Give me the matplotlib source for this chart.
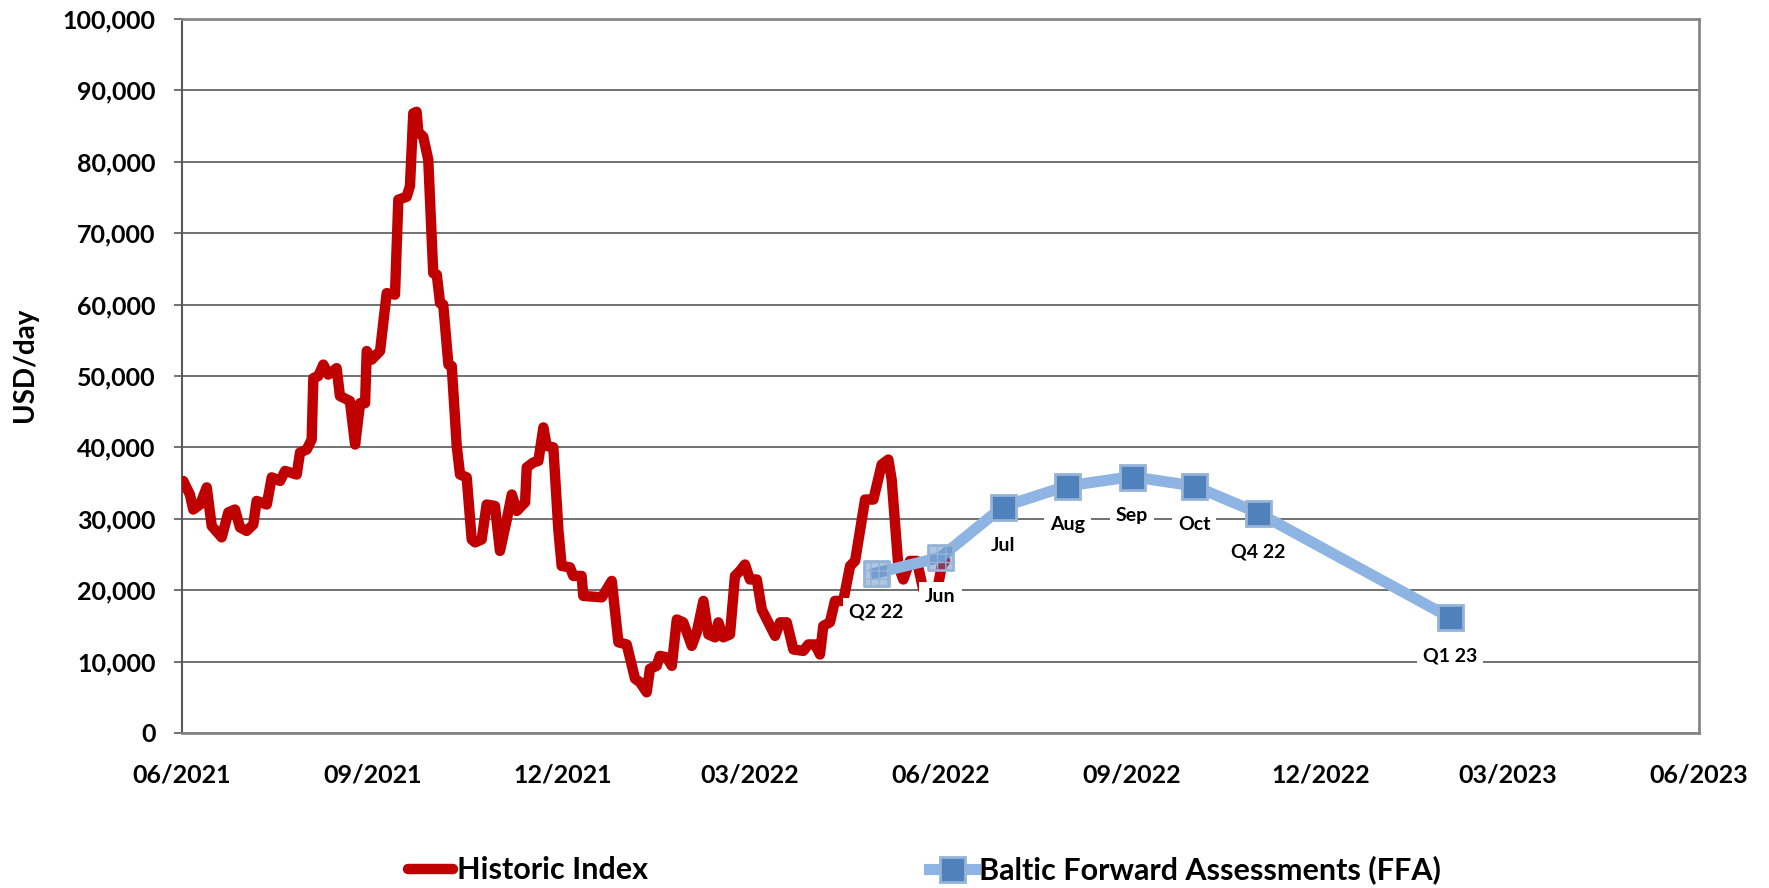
import matplotlib
matplotlib.use("Agg")
import matplotlib.pyplot as plt
import matplotlib.dates as mdates
import matplotlib.ticker as mticker
import numpy as np
import pandas as pd

plt.rcParams['font.family'] = ['Lato', 'DejaVu Sans']
plt.rcParams['font.weight'] = 'bold'

# Historic index: days after 2021-06-01 and USD/day
hist_days = [0, 0.6, 3.8, 5.4, 8.7, 11.9, 14.3, 19.1, 22.3, 25.5, 27.9, 31.1, 34.3,
             35.9, 40.8, 43.2, 47.2, 49.6, 55.2, 56.8, 60.0, 62.4, 63.2, 65.6, 68.0,
             70.4, 74.4, 76.0, 80.8, 83.3, 85.7, 88.1, 88.9, 91.3, 95.3, 98.5, 102.5,
             104.1, 108.1, 109.7, 111.3, 112.9, 113.7, 116.1, 118.5, 120.9, 122.6,
             124.2, 125.7, 128.2, 129.8, 132.2, 133.8, 137.0, 139.4, 141.0, 144.2,
             146.6, 150.6, 153.0, 156.3, 158.7, 161.1, 165.1, 165.9, 169.1, 171.5,
             173.9, 175.5, 178.7, 181.1, 182.7, 186.7, 188.3, 192.3, 193.1, 202.0,
             206.8, 210.0, 214.0, 218.0, 220.4, 223.6, 225.2, 228.4, 230.0, 233.2,
             235.7, 238.1, 241.2, 245.3, 247.7, 250.9, 253.3, 256.5, 258.1, 260.5,
             263.7, 266.1, 268.5, 270.9, 273.3, 276.6, 279.0, 281.4, 285.4, 287.8,
             291.0, 294.2, 299.0, 301.4, 304.6, 307.0, 308.6, 311.8, 314.2, 318.2,
             321.5, 323.9, 328.7, 332.7, 336.7, 339.9, 341.5, 344.7, 347.1, 350.3,
             353.6, 356.7, 360.0, 363.2, 365.6, 367.2]
hist_vals = [35000, 35300, 33400, 31300, 32000, 34400, 29000, 27400, 30900, 31300, 28800,
             28300, 29200, 32500, 32000, 35800, 35300, 36700, 36200, 39300, 39700,
             41100, 49700, 50000, 51600, 50200, 51100, 47200, 46500, 40400, 46200,
             46200, 53500, 52300, 53500, 61600, 61400, 74700, 75100, 76600, 86800,
             87000, 84200, 83500, 80300, 64400, 64200, 60200, 60000, 51600, 51400,
             40200, 36200, 35800, 27100, 26700, 27100, 32000, 31800, 25500, 29900,
             33400, 31100, 32300, 37200, 37900, 38100, 42800, 40200, 40000, 28500,
             23400, 23200, 22000, 22000, 19200, 19000, 21300, 12700, 12400, 7600,
             7100, 5700, 9000, 9400, 10800, 10600, 9400, 15900, 15500, 12200, 14100,
             18500, 13800, 13400, 15500, 13400, 13800, 22000, 22700, 23600, 21500,
             21500, 17300, 15900, 13600, 15500, 15500, 11700, 11500, 12400, 12400,
             11000, 15000, 15500, 18500, 18500, 23400, 24100, 32700, 32700, 37600,
             38300, 35500, 23400, 21500, 24100, 24100, 20100, 19400, 19700, 23400,
             24100]

# Baltic forward assessments
ffa_dates = ['2022-05-01', '2022-06-01', '2022-07-01', '2022-08-01', '2022-09-01',
             '2022-10-01', '2022-11-01', '2023-02-01']
ffa_vals = [22400, 24600, 31700, 34600, 35900, 34600, 30800, 16200]
ffa_labels = ['Q2 22', 'Jun', 'Jul', 'Aug', 'Sep', 'Oct', 'Q4 22', 'Q1 23']

hist_x = pd.Timestamp('2021-06-01') + pd.to_timedelta(hist_days, unit='D')
ffa_x = pd.to_datetime(ffa_dates)

fig = plt.figure(figsize=(17.69, 8.88), dpi=100)
ax = fig.add_axes([182 / 1769, 1 - 733 / 888, 1517 / 1769, 714 / 888])

ax.plot(hist_x, hist_vals, color='#C00000', linewidth=7.5, solid_joinstyle='round',
        solid_capstyle='round', label='Historic Index', zorder=3)

ax.plot(ffa_x, ffa_vals, color='#8DB4E2', linewidth=8, marker='s', markersize=18,
        markerfacecolor='#4F81BD', markeredgecolor='#95B3D7', markeredgewidth=2,
        markevery=list(range(2, len(ffa_vals))), label='Baltic Forward Assessments (FFA)',
        zorder=4)
# first two markers are pattern filled
ax.scatter(ffa_x[:2], ffa_vals[:2], marker='s', s=18 ** 2, facecolor=(0.31, 0.51, 0.74, 0.45),
           edgecolor='#95B3D7', hatch='++', linewidth=2, zorder=5)

for xd, yv, lab in zip(ffa_x, ffa_vals, ffa_labels):
    ax.annotate(lab, (xd, yv), xytext=(0, -39), textcoords='offset pixels',
                ha='center', va='center', fontsize=14, fontweight='bold',
                bbox=dict(boxstyle='square,pad=0.3', fc='white', ec='none'), zorder=6)

ax.set_xlim(pd.Timestamp('2021-06-01'), pd.Timestamp('2023-06-01'))
ax.set_ylim(0, 100000)
ax.xaxis.set_major_locator(mdates.MonthLocator(bymonth=[3, 6, 9, 12]))
ax.xaxis.set_major_formatter(mdates.DateFormatter('%m/%Y'))
ax.yaxis.set_major_locator(mticker.MultipleLocator(10000))
ax.yaxis.set_major_formatter(mticker.StrMethodFormatter('{x:,.0f}'))

ax.grid(axis='y', color='#595959', linewidth=1.2)
ax.set_axisbelow(True)
ax.tick_params(axis='y', length=6, width=1.2, color='#595959', pad=13, labelsize=18)
ax.tick_params(axis='x', length=0, pad=22, labelsize=18)
for lab in ax.get_xticklabels() + ax.get_yticklabels():
    lab.set_fontweight('bold')

for s in ['top', 'right', 'bottom']:
    ax.spines[s].set_color('#868686')
    ax.spines[s].set_linewidth(2)
ax.spines['left'].set_color('#595959')
ax.spines['left'].set_linewidth(1.5)

ax.set_ylabel('USD/day', fontsize=20, fontweight='bold')
ax.yaxis.set_label_coords(-0.095, 0.515)

fig.legend(loc='center', bbox_to_anchor=(924 / 1769, 1 - 870 / 888), ncol=2,
           frameon=False, handlelength=1.5, handletextpad=0.12,
           columnspacing=9.2, prop={'weight': 'bold', 'size': 22})

fig.savefig('out.png', dpi=100)
